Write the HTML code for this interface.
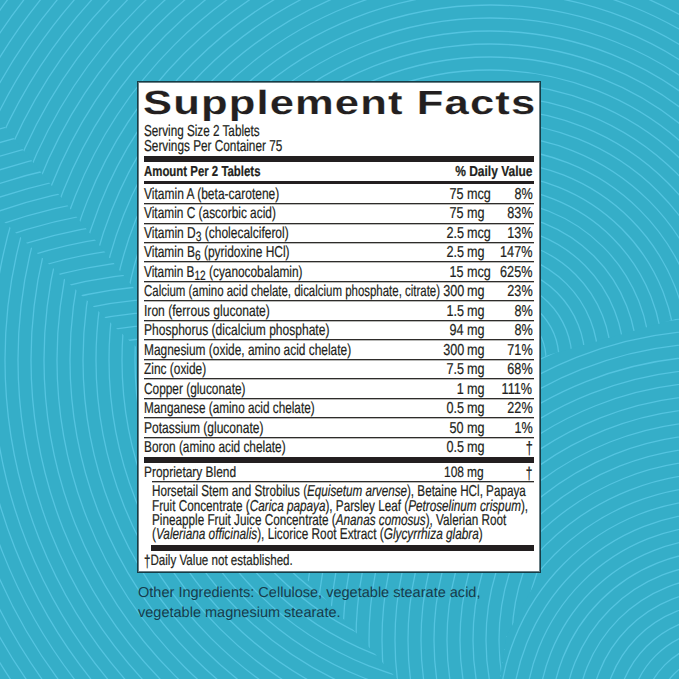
<!DOCTYPE html>
<html><head><meta charset="utf-8"><style>
html,body{margin:0;padding:0;}
body{width:679px;height:679px;overflow:hidden;position:relative;background:#35aec8;font-family:"Liberation Sans",sans-serif;color:#231f20;}
.t{position:absolute;white-space:nowrap;text-rendering:geometricPrecision;-webkit-text-stroke:0.22px #231f20;}
.b{position:absolute;}
.sub{font-size:13.5px;position:relative;top:2.5px;} .dg{display:inline-block;transform:scaleY(1.13);transform-origin:50% 0;}
.box{position:absolute;left:137px;top:81px;width:404px;height:492px;box-sizing:border-box;background:#fff;border:1px solid #163c46;box-shadow:inset 0 0 0 1px #6a7f85;}
</style></head><body>
<div id="wrap" style="position:absolute;left:0;top:0;width:679px;height:679px;">
<svg style="position:absolute;left:0;top:0" width="679" height="679" viewBox="0 0 679 679"><defs><clipPath id="c1"><polygon points="0,121 137,292 137,348 0,218"/></clipPath><clipPath id="c2"><polygon points="541,357 679,318 679,679 500,679 506,637 541,567"/></clipPath><clipPath id="c3"><polygon points="300,572 541,572 506,637 500,679 397,679 359,636"/></clipPath></defs><g fill="none" stroke="#54c4e0" stroke-width="1.3" opacity="1"><g><circle cx="490" cy="360" r="17.0"/><circle cx="490" cy="360" r="30.0"/><circle cx="490" cy="360" r="43.0"/><circle cx="490" cy="360" r="56.0"/><circle cx="490" cy="360" r="69.0"/><circle cx="490" cy="360" r="82.0"/><circle cx="490" cy="360" r="95.0"/><circle cx="490" cy="360" r="108.0"/><circle cx="490" cy="360" r="121.0"/><circle cx="490" cy="360" r="134.0"/><circle cx="490" cy="360" r="147.0"/><circle cx="490" cy="360" r="160.0"/><circle cx="490" cy="360" r="173.0"/><circle cx="490" cy="360" r="186.0"/><circle cx="490" cy="360" r="199.0"/><circle cx="490" cy="360" r="212.0"/><circle cx="490" cy="360" r="225.0"/><circle cx="490" cy="360" r="238.0"/><circle cx="490" cy="360" r="251.0"/><circle cx="490" cy="360" r="264.0"/><circle cx="490" cy="360" r="277.0"/><circle cx="490" cy="360" r="290.0"/><circle cx="490" cy="360" r="303.0"/><circle cx="490" cy="360" r="316.0"/><circle cx="490" cy="360" r="329.0"/><circle cx="490" cy="360" r="342.0"/><circle cx="490" cy="360" r="355.0"/><circle cx="490" cy="360" r="368.0"/><circle cx="490" cy="360" r="381.0"/><circle cx="490" cy="360" r="394.0"/><circle cx="490" cy="360" r="407.0"/><circle cx="490" cy="360" r="420.0"/><circle cx="490" cy="360" r="433.0"/><circle cx="490" cy="360" r="446.0"/><circle cx="490" cy="360" r="459.0"/><circle cx="490" cy="360" r="472.0"/><circle cx="490" cy="360" r="485.0"/><circle cx="490" cy="360" r="498.0"/><circle cx="490" cy="360" r="511.0"/><circle cx="490" cy="360" r="524.0"/><circle cx="490" cy="360" r="537.0"/><circle cx="490" cy="360" r="550.0"/><circle cx="490" cy="360" r="563.0"/><circle cx="490" cy="360" r="576.0"/><circle cx="490" cy="360" r="589.0"/><circle cx="490" cy="360" r="602.0"/><circle cx="490" cy="360" r="615.0"/><circle cx="490" cy="360" r="628.0"/><circle cx="490" cy="360" r="641.0"/><circle cx="490" cy="360" r="654.0"/><circle cx="490" cy="360" r="667.0"/><circle cx="490" cy="360" r="680.0"/><circle cx="490" cy="360" r="693.0"/><circle cx="490" cy="360" r="706.0"/><circle cx="490" cy="360" r="719.0"/><circle cx="490" cy="360" r="732.0"/><circle cx="490" cy="360" r="745.0"/><circle cx="490" cy="360" r="758.0"/><circle cx="490" cy="360" r="771.0"/><circle cx="490" cy="360" r="784.0"/><circle cx="490" cy="360" r="797.0"/><circle cx="490" cy="360" r="810.0"/><circle cx="490" cy="360" r="823.0"/><circle cx="490" cy="360" r="836.0"/><circle cx="490" cy="360" r="849.0"/><circle cx="490" cy="360" r="862.0"/><circle cx="490" cy="360" r="875.0"/><circle cx="490" cy="360" r="888.0"/><circle cx="490" cy="360" r="901.0"/><circle cx="490" cy="360" r="914.0"/><circle cx="490" cy="360" r="927.0"/><circle cx="490" cy="360" r="940.0"/><circle cx="490" cy="360" r="953.0"/><circle cx="490" cy="360" r="966.0"/><circle cx="490" cy="360" r="979.0"/></g><g clip-path="url(#c1)"><polygon points="0,121 137,292 137,348 0,218" fill="#35aec8" stroke="none"/><g><circle cx="180" cy="740" r="13.0"/><circle cx="180" cy="740" r="26.0"/><circle cx="180" cy="740" r="39.0"/><circle cx="180" cy="740" r="52.0"/><circle cx="180" cy="740" r="65.0"/><circle cx="180" cy="740" r="78.0"/><circle cx="180" cy="740" r="91.0"/><circle cx="180" cy="740" r="104.0"/><circle cx="180" cy="740" r="117.0"/><circle cx="180" cy="740" r="130.0"/><circle cx="180" cy="740" r="143.0"/><circle cx="180" cy="740" r="156.0"/><circle cx="180" cy="740" r="169.0"/><circle cx="180" cy="740" r="182.0"/><circle cx="180" cy="740" r="195.0"/><circle cx="180" cy="740" r="208.0"/><circle cx="180" cy="740" r="221.0"/><circle cx="180" cy="740" r="234.0"/><circle cx="180" cy="740" r="247.0"/><circle cx="180" cy="740" r="260.0"/><circle cx="180" cy="740" r="273.0"/><circle cx="180" cy="740" r="286.0"/><circle cx="180" cy="740" r="299.0"/><circle cx="180" cy="740" r="312.0"/><circle cx="180" cy="740" r="325.0"/><circle cx="180" cy="740" r="338.0"/><circle cx="180" cy="740" r="351.0"/><circle cx="180" cy="740" r="364.0"/><circle cx="180" cy="740" r="377.0"/><circle cx="180" cy="740" r="390.0"/><circle cx="180" cy="740" r="403.0"/><circle cx="180" cy="740" r="416.0"/><circle cx="180" cy="740" r="429.0"/><circle cx="180" cy="740" r="442.0"/><circle cx="180" cy="740" r="455.0"/><circle cx="180" cy="740" r="468.0"/><circle cx="180" cy="740" r="481.0"/><circle cx="180" cy="740" r="494.0"/><circle cx="180" cy="740" r="507.0"/><circle cx="180" cy="740" r="520.0"/><circle cx="180" cy="740" r="533.0"/><circle cx="180" cy="740" r="546.0"/><circle cx="180" cy="740" r="559.0"/><circle cx="180" cy="740" r="572.0"/><circle cx="180" cy="740" r="585.0"/><circle cx="180" cy="740" r="598.0"/><circle cx="180" cy="740" r="611.0"/><circle cx="180" cy="740" r="624.0"/><circle cx="180" cy="740" r="637.0"/><circle cx="180" cy="740" r="650.0"/><circle cx="180" cy="740" r="663.0"/><circle cx="180" cy="740" r="676.0"/><circle cx="180" cy="740" r="689.0"/><circle cx="180" cy="740" r="702.0"/><circle cx="180" cy="740" r="715.0"/><circle cx="180" cy="740" r="728.0"/><circle cx="180" cy="740" r="741.0"/><circle cx="180" cy="740" r="754.0"/><circle cx="180" cy="740" r="767.0"/><circle cx="180" cy="740" r="780.0"/><circle cx="180" cy="740" r="793.0"/><circle cx="180" cy="740" r="806.0"/><circle cx="180" cy="740" r="819.0"/><circle cx="180" cy="740" r="832.0"/><circle cx="180" cy="740" r="845.0"/><circle cx="180" cy="740" r="858.0"/><circle cx="180" cy="740" r="871.0"/><circle cx="180" cy="740" r="884.0"/><circle cx="180" cy="740" r="897.0"/><circle cx="180" cy="740" r="910.0"/><circle cx="180" cy="740" r="923.0"/><circle cx="180" cy="740" r="936.0"/><circle cx="180" cy="740" r="949.0"/><circle cx="180" cy="740" r="962.0"/><circle cx="180" cy="740" r="975.0"/></g></g><g clip-path="url(#c2)"><polygon points="541,357 679,318 679,679 500,679 506,637 541,567" fill="#35aec8" stroke="none"/><g><circle cx="720" cy="720" r="13.0"/><circle cx="720" cy="720" r="26.0"/><circle cx="720" cy="720" r="39.0"/><circle cx="720" cy="720" r="52.0"/><circle cx="720" cy="720" r="65.0"/><circle cx="720" cy="720" r="78.0"/><circle cx="720" cy="720" r="91.0"/><circle cx="720" cy="720" r="104.0"/><circle cx="720" cy="720" r="117.0"/><circle cx="720" cy="720" r="130.0"/><circle cx="720" cy="720" r="143.0"/><circle cx="720" cy="720" r="156.0"/><circle cx="720" cy="720" r="169.0"/><circle cx="720" cy="720" r="182.0"/><circle cx="720" cy="720" r="195.0"/><circle cx="720" cy="720" r="208.0"/><circle cx="720" cy="720" r="221.0"/><circle cx="720" cy="720" r="234.0"/><circle cx="720" cy="720" r="247.0"/><circle cx="720" cy="720" r="260.0"/><circle cx="720" cy="720" r="273.0"/><circle cx="720" cy="720" r="286.0"/><circle cx="720" cy="720" r="299.0"/><circle cx="720" cy="720" r="312.0"/><circle cx="720" cy="720" r="325.0"/><circle cx="720" cy="720" r="338.0"/><circle cx="720" cy="720" r="351.0"/><circle cx="720" cy="720" r="364.0"/><circle cx="720" cy="720" r="377.0"/><circle cx="720" cy="720" r="390.0"/><circle cx="720" cy="720" r="403.0"/><circle cx="720" cy="720" r="416.0"/><circle cx="720" cy="720" r="429.0"/><circle cx="720" cy="720" r="442.0"/><circle cx="720" cy="720" r="455.0"/><circle cx="720" cy="720" r="468.0"/><circle cx="720" cy="720" r="481.0"/><circle cx="720" cy="720" r="494.0"/><circle cx="720" cy="720" r="507.0"/><circle cx="720" cy="720" r="520.0"/><circle cx="720" cy="720" r="533.0"/><circle cx="720" cy="720" r="546.0"/><circle cx="720" cy="720" r="559.0"/><circle cx="720" cy="720" r="572.0"/><circle cx="720" cy="720" r="585.0"/><circle cx="720" cy="720" r="598.0"/><circle cx="720" cy="720" r="611.0"/><circle cx="720" cy="720" r="624.0"/><circle cx="720" cy="720" r="637.0"/><circle cx="720" cy="720" r="650.0"/><circle cx="720" cy="720" r="663.0"/><circle cx="720" cy="720" r="676.0"/><circle cx="720" cy="720" r="689.0"/><circle cx="720" cy="720" r="702.0"/><circle cx="720" cy="720" r="715.0"/><circle cx="720" cy="720" r="728.0"/><circle cx="720" cy="720" r="741.0"/><circle cx="720" cy="720" r="754.0"/><circle cx="720" cy="720" r="767.0"/><circle cx="720" cy="720" r="780.0"/><circle cx="720" cy="720" r="793.0"/><circle cx="720" cy="720" r="806.0"/><circle cx="720" cy="720" r="819.0"/><circle cx="720" cy="720" r="832.0"/><circle cx="720" cy="720" r="845.0"/><circle cx="720" cy="720" r="858.0"/><circle cx="720" cy="720" r="871.0"/><circle cx="720" cy="720" r="884.0"/><circle cx="720" cy="720" r="897.0"/><circle cx="720" cy="720" r="910.0"/><circle cx="720" cy="720" r="923.0"/><circle cx="720" cy="720" r="936.0"/><circle cx="720" cy="720" r="949.0"/><circle cx="720" cy="720" r="962.0"/><circle cx="720" cy="720" r="975.0"/></g></g><g clip-path="url(#c3)"><polygon points="300,572 541,572 506,637 500,679 397,679 359,636" fill="#35aec8" stroke="none"/><g><circle cx="720" cy="640" r="13.0"/><circle cx="720" cy="640" r="26.0"/><circle cx="720" cy="640" r="39.0"/><circle cx="720" cy="640" r="52.0"/><circle cx="720" cy="640" r="65.0"/><circle cx="720" cy="640" r="78.0"/><circle cx="720" cy="640" r="91.0"/><circle cx="720" cy="640" r="104.0"/><circle cx="720" cy="640" r="117.0"/><circle cx="720" cy="640" r="130.0"/><circle cx="720" cy="640" r="143.0"/><circle cx="720" cy="640" r="156.0"/><circle cx="720" cy="640" r="169.0"/><circle cx="720" cy="640" r="182.0"/><circle cx="720" cy="640" r="195.0"/><circle cx="720" cy="640" r="208.0"/><circle cx="720" cy="640" r="221.0"/><circle cx="720" cy="640" r="234.0"/><circle cx="720" cy="640" r="247.0"/><circle cx="720" cy="640" r="260.0"/><circle cx="720" cy="640" r="273.0"/><circle cx="720" cy="640" r="286.0"/><circle cx="720" cy="640" r="299.0"/><circle cx="720" cy="640" r="312.0"/><circle cx="720" cy="640" r="325.0"/><circle cx="720" cy="640" r="338.0"/><circle cx="720" cy="640" r="351.0"/><circle cx="720" cy="640" r="364.0"/><circle cx="720" cy="640" r="377.0"/><circle cx="720" cy="640" r="390.0"/><circle cx="720" cy="640" r="403.0"/><circle cx="720" cy="640" r="416.0"/><circle cx="720" cy="640" r="429.0"/><circle cx="720" cy="640" r="442.0"/><circle cx="720" cy="640" r="455.0"/><circle cx="720" cy="640" r="468.0"/><circle cx="720" cy="640" r="481.0"/><circle cx="720" cy="640" r="494.0"/><circle cx="720" cy="640" r="507.0"/><circle cx="720" cy="640" r="520.0"/><circle cx="720" cy="640" r="533.0"/><circle cx="720" cy="640" r="546.0"/><circle cx="720" cy="640" r="559.0"/><circle cx="720" cy="640" r="572.0"/><circle cx="720" cy="640" r="585.0"/><circle cx="720" cy="640" r="598.0"/><circle cx="720" cy="640" r="611.0"/><circle cx="720" cy="640" r="624.0"/><circle cx="720" cy="640" r="637.0"/><circle cx="720" cy="640" r="650.0"/><circle cx="720" cy="640" r="663.0"/><circle cx="720" cy="640" r="676.0"/><circle cx="720" cy="640" r="689.0"/><circle cx="720" cy="640" r="702.0"/><circle cx="720" cy="640" r="715.0"/><circle cx="720" cy="640" r="728.0"/><circle cx="720" cy="640" r="741.0"/><circle cx="720" cy="640" r="754.0"/><circle cx="720" cy="640" r="767.0"/><circle cx="720" cy="640" r="780.0"/><circle cx="720" cy="640" r="793.0"/><circle cx="720" cy="640" r="806.0"/><circle cx="720" cy="640" r="819.0"/><circle cx="720" cy="640" r="832.0"/><circle cx="720" cy="640" r="845.0"/><circle cx="720" cy="640" r="858.0"/><circle cx="720" cy="640" r="871.0"/><circle cx="720" cy="640" r="884.0"/><circle cx="720" cy="640" r="897.0"/><circle cx="720" cy="640" r="910.0"/><circle cx="720" cy="640" r="923.0"/><circle cx="720" cy="640" r="936.0"/><circle cx="720" cy="640" r="949.0"/><circle cx="720" cy="640" r="962.0"/><circle cx="720" cy="640" r="975.0"/></g></g></g></svg>
<div class="box"></div>
<div class="b" style="left:144px;top:156px;width:390.00px;height:6.00px;background:#231f20"></div>
<div class="b" style="left:144px;top:181px;width:390.00px;height:3.00px;background:#231f20"></div>
<div class="b" style="left:144px;top:203px;width:390.00px;height:1.00px;background:#2e2c2a"></div>
<div class="b" style="left:144px;top:204px;width:390.00px;height:1.00px;background:#b8b8b6"></div>
<div class="b" style="left:144px;top:223px;width:390.00px;height:1.00px;background:#2e2c2a"></div>
<div class="b" style="left:144px;top:224px;width:390.00px;height:1.00px;background:#b8b8b6"></div>
<div class="b" style="left:144px;top:242px;width:390.00px;height:1.00px;background:#2e2c2a"></div>
<div class="b" style="left:144px;top:243px;width:390.00px;height:1.00px;background:#b8b8b6"></div>
<div class="b" style="left:144px;top:261px;width:390.00px;height:1.00px;background:#2e2c2a"></div>
<div class="b" style="left:144px;top:262px;width:390.00px;height:1.00px;background:#b8b8b6"></div>
<div class="b" style="left:144px;top:281px;width:390.00px;height:1.00px;background:#2e2c2a"></div>
<div class="b" style="left:144px;top:282px;width:390.00px;height:1.00px;background:#b8b8b6"></div>
<div class="b" style="left:144px;top:300px;width:390.00px;height:1.00px;background:#2e2c2a"></div>
<div class="b" style="left:144px;top:301px;width:390.00px;height:1.00px;background:#b8b8b6"></div>
<div class="b" style="left:144px;top:320px;width:390.00px;height:1.00px;background:#2e2c2a"></div>
<div class="b" style="left:144px;top:321px;width:390.00px;height:1.00px;background:#b8b8b6"></div>
<div class="b" style="left:144px;top:339px;width:390.00px;height:1.00px;background:#2e2c2a"></div>
<div class="b" style="left:144px;top:340px;width:390.00px;height:1.00px;background:#b8b8b6"></div>
<div class="b" style="left:144px;top:359px;width:390.00px;height:1.00px;background:#2e2c2a"></div>
<div class="b" style="left:144px;top:360px;width:390.00px;height:1.00px;background:#b8b8b6"></div>
<div class="b" style="left:144px;top:378px;width:390.00px;height:1.00px;background:#2e2c2a"></div>
<div class="b" style="left:144px;top:379px;width:390.00px;height:1.00px;background:#b8b8b6"></div>
<div class="b" style="left:144px;top:398px;width:390.00px;height:1.00px;background:#2e2c2a"></div>
<div class="b" style="left:144px;top:399px;width:390.00px;height:1.00px;background:#b8b8b6"></div>
<div class="b" style="left:144px;top:417px;width:390.00px;height:1.00px;background:#2e2c2a"></div>
<div class="b" style="left:144px;top:418px;width:390.00px;height:1.00px;background:#b8b8b6"></div>
<div class="b" style="left:144px;top:437px;width:390.00px;height:1.00px;background:#2e2c2a"></div>
<div class="b" style="left:144px;top:438px;width:390.00px;height:1.00px;background:#b8b8b6"></div>
<div class="b" style="left:144px;top:457px;width:390.00px;height:5.50px;background:#231f20"></div>
<div class="b" style="left:151.6px;top:481px;width:382.40px;height:1.00px;background:#2e2c2a"></div>
<div class="b" style="left:151.6px;top:482px;width:382.40px;height:1.00px;background:#b8b8b6"></div>
<div class="b" style="left:151px;top:545px;width:383.00px;height:6.00px;background:#231f20"></div>
<div class="t" style="top:87px;font-size:33.5px;line-height:33.5px;left:142.90px;transform:scaleX(1.3000);transform-origin:0 0;font-weight:bold;letter-spacing:0.875px;-webkit-text-stroke:0.15px #fff;">Supplement Facts</div>
<div class="t" style="top:124px;font-size:15.8px;line-height:15.8px;left:143.80px;transform:scaleX(0.7410);transform-origin:0 0;">Serving Size 2 Tablets</div>
<div class="t" style="top:139px;font-size:15.8px;line-height:15.8px;left:143.80px;transform:scaleX(0.7464);transform-origin:0 0;">Servings Per Container 75</div>
<div class="t" style="top:165px;font-size:14.5px;line-height:14.5px;left:144.30px;transform:scaleX(0.7872);transform-origin:0 0;font-weight:bold;">Amount Per 2 Tablets</div>
<div class="t" style="top:165px;font-size:14.5px;line-height:14.5px;right:146.50px;transform:scaleX(0.8267);transform-origin:100% 0;font-weight:bold;">% Daily Value</div>
<div class="t" style="top:187px;font-size:15.8px;line-height:15.8px;left:143.80px;transform:scaleX(0.7602);transform-origin:0 0;">Vitamin A (beta-carotene)</div>
<div class="t" style="top:187px;font-size:15.8px;line-height:15.8px;right:215.00px;transform:scaleX(0.8000);transform-origin:100% 0;">75</div>
<div class="t" style="top:187px;font-size:15.8px;line-height:15.8px;left:467.20px;transform:scaleX(0.8000);transform-origin:0 0;">mcg</div>
<div class="t" style="top:187px;font-size:15.8px;line-height:15.8px;right:146.50px;transform:scaleX(0.8000);transform-origin:100% 0;">8%</div>
<div class="t" style="top:206px;font-size:15.8px;line-height:15.8px;left:143.80px;transform:scaleX(0.7524);transform-origin:0 0;">Vitamin C (ascorbic acid)</div>
<div class="t" style="top:206px;font-size:15.8px;line-height:15.8px;right:215.00px;transform:scaleX(0.8000);transform-origin:100% 0;">75</div>
<div class="t" style="top:206px;font-size:15.8px;line-height:15.8px;left:467.20px;transform:scaleX(0.8000);transform-origin:0 0;">mg</div>
<div class="t" style="top:206px;font-size:15.8px;line-height:15.8px;right:146.50px;transform:scaleX(0.8000);transform-origin:100% 0;">83%</div>
<div class="t" style="top:226px;font-size:15.8px;line-height:15.8px;left:143.80px;transform:scaleX(0.7587);transform-origin:0 0;">Vitamin D<span class='sub'>3</span> (cholecalciferol)</div>
<div class="t" style="top:226px;font-size:15.8px;line-height:15.8px;right:215.00px;transform:scaleX(0.8000);transform-origin:100% 0;">2.5</div>
<div class="t" style="top:226px;font-size:15.8px;line-height:15.8px;left:467.20px;transform:scaleX(0.8000);transform-origin:0 0;">mcg</div>
<div class="t" style="top:226px;font-size:15.8px;line-height:15.8px;right:146.50px;transform:scaleX(0.8000);transform-origin:100% 0;">13%</div>
<div class="t" style="top:245px;font-size:15.8px;line-height:15.8px;left:143.80px;transform:scaleX(0.7564);transform-origin:0 0;">Vitamin B<span class='sub'>6</span> (pyridoxine HCl)</div>
<div class="t" style="top:245px;font-size:15.8px;line-height:15.8px;right:215.00px;transform:scaleX(0.8000);transform-origin:100% 0;">2.5</div>
<div class="t" style="top:245px;font-size:15.8px;line-height:15.8px;left:467.20px;transform:scaleX(0.8000);transform-origin:0 0;">mg</div>
<div class="t" style="top:245px;font-size:15.8px;line-height:15.8px;right:146.50px;transform:scaleX(0.8000);transform-origin:100% 0;">147%</div>
<div class="t" style="top:265px;font-size:15.8px;line-height:15.8px;left:143.80px;transform:scaleX(0.7496);transform-origin:0 0;">Vitamin B<span class='sub'>12</span> (cyanocobalamin)</div>
<div class="t" style="top:265px;font-size:15.8px;line-height:15.8px;right:215.00px;transform:scaleX(0.8000);transform-origin:100% 0;">15</div>
<div class="t" style="top:265px;font-size:15.8px;line-height:15.8px;left:467.20px;transform:scaleX(0.8000);transform-origin:0 0;">mcg</div>
<div class="t" style="top:265px;font-size:15.8px;line-height:15.8px;right:146.50px;transform:scaleX(0.8000);transform-origin:100% 0;">625%</div>
<div class="t" style="top:284px;font-size:15.8px;line-height:15.8px;left:143.80px;transform:scaleX(0.7250);transform-origin:0 0;">Calcium (amino acid chelate, dicalcium phosphate, citrate)</div>
<div class="t" style="top:284px;font-size:15.8px;line-height:15.8px;right:215.00px;transform:scaleX(0.8000);transform-origin:100% 0;">300</div>
<div class="t" style="top:284px;font-size:15.8px;line-height:15.8px;left:467.20px;transform:scaleX(0.8000);transform-origin:0 0;">mg</div>
<div class="t" style="top:284px;font-size:15.8px;line-height:15.8px;right:146.50px;transform:scaleX(0.8000);transform-origin:100% 0;">23%</div>
<div class="t" style="top:304px;font-size:15.8px;line-height:15.8px;left:143.80px;transform:scaleX(0.7661);transform-origin:0 0;">Iron (ferrous gluconate)</div>
<div class="t" style="top:304px;font-size:15.8px;line-height:15.8px;right:215.00px;transform:scaleX(0.8000);transform-origin:100% 0;">1.5</div>
<div class="t" style="top:304px;font-size:15.8px;line-height:15.8px;left:467.20px;transform:scaleX(0.8000);transform-origin:0 0;">mg</div>
<div class="t" style="top:304px;font-size:15.8px;line-height:15.8px;right:146.50px;transform:scaleX(0.8000);transform-origin:100% 0;">8%</div>
<div class="t" style="top:323px;font-size:15.8px;line-height:15.8px;left:143.80px;transform:scaleX(0.7622);transform-origin:0 0;">Phosphorus (dicalcium phosphate)</div>
<div class="t" style="top:323px;font-size:15.8px;line-height:15.8px;right:215.00px;transform:scaleX(0.8000);transform-origin:100% 0;">94</div>
<div class="t" style="top:323px;font-size:15.8px;line-height:15.8px;left:467.20px;transform:scaleX(0.8000);transform-origin:0 0;">mg</div>
<div class="t" style="top:323px;font-size:15.8px;line-height:15.8px;right:146.50px;transform:scaleX(0.8000);transform-origin:100% 0;">8%</div>
<div class="t" style="top:343px;font-size:15.8px;line-height:15.8px;left:143.80px;transform:scaleX(0.7536);transform-origin:0 0;">Magnesium (oxide, amino acid chelate)</div>
<div class="t" style="top:343px;font-size:15.8px;line-height:15.8px;right:215.00px;transform:scaleX(0.8000);transform-origin:100% 0;">300</div>
<div class="t" style="top:343px;font-size:15.8px;line-height:15.8px;left:467.20px;transform:scaleX(0.8000);transform-origin:0 0;">mg</div>
<div class="t" style="top:343px;font-size:15.8px;line-height:15.8px;right:146.50px;transform:scaleX(0.8000);transform-origin:100% 0;">71%</div>
<div class="t" style="top:362px;font-size:15.8px;line-height:15.8px;left:143.80px;transform:scaleX(0.7537);transform-origin:0 0;">Zinc (oxide)</div>
<div class="t" style="top:362px;font-size:15.8px;line-height:15.8px;right:215.00px;transform:scaleX(0.8000);transform-origin:100% 0;">7.5</div>
<div class="t" style="top:362px;font-size:15.8px;line-height:15.8px;left:467.20px;transform:scaleX(0.8000);transform-origin:0 0;">mg</div>
<div class="t" style="top:362px;font-size:15.8px;line-height:15.8px;right:146.50px;transform:scaleX(0.8000);transform-origin:100% 0;">68%</div>
<div class="t" style="top:382px;font-size:15.8px;line-height:15.8px;left:143.80px;transform:scaleX(0.7505);transform-origin:0 0;">Copper (gluconate)</div>
<div class="t" style="top:382px;font-size:15.8px;line-height:15.8px;right:215.00px;transform:scaleX(0.8000);transform-origin:100% 0;">1</div>
<div class="t" style="top:382px;font-size:15.8px;line-height:15.8px;left:467.20px;transform:scaleX(0.8000);transform-origin:0 0;">mg</div>
<div class="t" style="top:382px;font-size:15.8px;line-height:15.8px;right:146.50px;transform:scaleX(0.8000);transform-origin:100% 0;">111%</div>
<div class="t" style="top:401px;font-size:15.8px;line-height:15.8px;left:143.80px;transform:scaleX(0.7444);transform-origin:0 0;">Manganese (amino acid chelate)</div>
<div class="t" style="top:401px;font-size:15.8px;line-height:15.8px;right:215.00px;transform:scaleX(0.8000);transform-origin:100% 0;">0.5</div>
<div class="t" style="top:401px;font-size:15.8px;line-height:15.8px;left:467.20px;transform:scaleX(0.8000);transform-origin:0 0;">mg</div>
<div class="t" style="top:401px;font-size:15.8px;line-height:15.8px;right:146.50px;transform:scaleX(0.8000);transform-origin:100% 0;">22%</div>
<div class="t" style="top:421px;font-size:15.8px;line-height:15.8px;left:143.80px;transform:scaleX(0.7597);transform-origin:0 0;">Potassium (gluconate)</div>
<div class="t" style="top:421px;font-size:15.8px;line-height:15.8px;right:215.00px;transform:scaleX(0.8000);transform-origin:100% 0;">50</div>
<div class="t" style="top:421px;font-size:15.8px;line-height:15.8px;left:467.20px;transform:scaleX(0.8000);transform-origin:0 0;">mg</div>
<div class="t" style="top:421px;font-size:15.8px;line-height:15.8px;right:146.50px;transform:scaleX(0.8000);transform-origin:100% 0;">1%</div>
<div class="t" style="top:440px;font-size:15.8px;line-height:15.8px;left:143.80px;transform:scaleX(0.7500);transform-origin:0 0;">Boron (amino acid chelate)</div>
<div class="t" style="top:440px;font-size:15.8px;line-height:15.8px;right:215.00px;transform:scaleX(0.8000);transform-origin:100% 0;">0.5</div>
<div class="t" style="top:440px;font-size:15.8px;line-height:15.8px;left:467.20px;transform:scaleX(0.8000);transform-origin:0 0;">mg</div>
<div class="t" style="top:440px;font-size:15.8px;line-height:15.8px;right:146.50px;transform:scaleX(0.8000);transform-origin:100% 0;"><span class='dg'>&#8224;</span></div>
<div class="t" style="top:465px;font-size:15.0px;line-height:15.0px;left:143.80px;transform:scaleX(0.7946);transform-origin:0 0;">Proprietary Blend</div>
<div class="t" style="top:465px;font-size:15.0px;line-height:15.0px;right:215.00px;transform:scaleX(0.8000);transform-origin:100% 0;">108</div>
<div class="t" style="top:465px;font-size:15.0px;line-height:15.0px;left:467.20px;transform:scaleX(0.8000);transform-origin:0 0;">mg</div>
<div class="t" style="top:465px;font-size:15.0px;line-height:15.0px;right:146.50px;transform:scaleX(0.8000);transform-origin:100% 0;"><span class='dg'>&#8224;</span></div>
<div class="t" style="top:484px;font-size:15.8px;line-height:15.8px;left:151.80px;transform:scaleX(0.7389);transform-origin:0 0;">Horsetail Stem and Strobilus (<i>Equisetum arvense</i>), Betaine HCl, Papaya</div>
<div class="t" style="top:499px;font-size:15.8px;line-height:15.8px;left:151.80px;transform:scaleX(0.7424);transform-origin:0 0;">Fruit Concentrate (<i>Carica papaya</i>), Parsley Leaf (<i>Petroselinum crispum</i>),</div>
<div class="t" style="top:513px;font-size:15.8px;line-height:15.8px;left:151.80px;transform:scaleX(0.7421);transform-origin:0 0;">Pineapple Fruit Juice Concentrate (<i>Ananas comosus</i>), Valerian Root</div>
<div class="t" style="top:527px;font-size:15.8px;line-height:15.8px;left:151.80px;transform:scaleX(0.7469);transform-origin:0 0;">(<i>Valeriana officinalis</i>), Licorice Root Extract (<i>Glycyrrhiza glabra</i>)</div>
<div class="t" style="top:553px;font-size:15.0px;line-height:15.0px;left:144.00px;transform:scaleX(0.7736);transform-origin:0 0;"><span class='dg'>&#8224;</span>Daily Value not established.</div>
<div class="t" style="top:586px;font-size:14.5px;line-height:14.5px;left:138.00px;transform:scaleX(1.0021);transform-origin:0 0;color:#163c4c;-webkit-text-stroke:0;">Other Ingredients: Cellulose, vegetable stearate acid,</div>
<div class="t" style="top:606px;font-size:14.5px;line-height:14.5px;left:138.00px;transform:scaleX(1.0013);transform-origin:0 0;color:#163c4c;-webkit-text-stroke:0;">vegetable magnesium stearate.</div>

</div>
</body></html>
